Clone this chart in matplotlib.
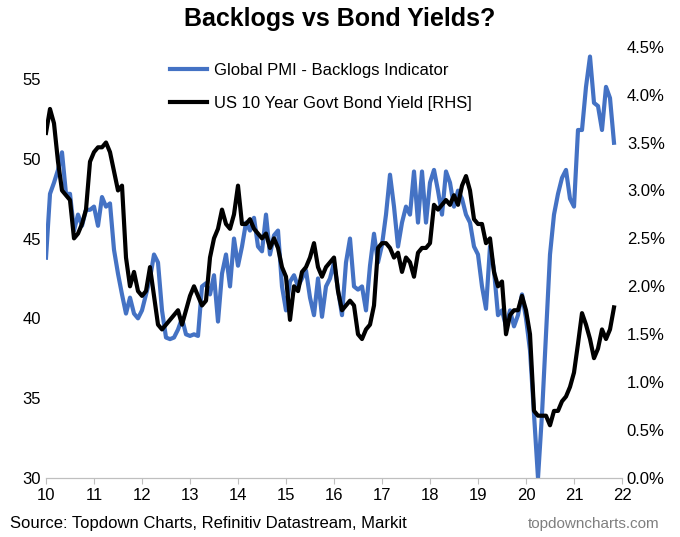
import matplotlib.pyplot as plt
from matplotlib.ticker import PercentFormatter
import numpy as np

plt.rcParams['font.family'] = ['Liberation Sans', 'DejaVu Sans']

pmi = [43.8, 47.8, 48.5, 49.3, 50.4, 47.8, 47.8, 45.5, 46.5, 45.8, 46.8, 46.8,
       47.0, 45.8, 47.6, 47.0, 47.2, 44.3, 42.8, 41.5, 40.3, 41.3, 40.3, 40.0,
       40.5, 41.5, 42.5, 44.0, 43.5, 40.5, 38.8, 38.7, 38.8, 39.3, 40.0, 39.0,
       38.9, 39.0, 38.9, 42.0, 42.2, 41.5, 42.7, 39.8, 42.8, 44.0, 42.0, 45.0,
       43.3, 44.5, 46.0, 45.5, 46.3, 44.5, 44.2, 46.5, 44.0, 45.2, 45.5, 42.0,
       40.5, 42.3, 42.7, 42.0, 42.5, 43.0, 41.3, 40.2, 42.5, 40.1, 42.0, 42.5,
       43.5, 41.8, 40.2, 43.5, 45.0, 42.0, 41.8, 42.0, 40.5, 43.3, 45.3, 43.5,
       44.6, 46.5, 49.0, 47.0, 44.5, 46.0, 47.0, 46.5, 49.2, 46.0, 49.2, 46.0,
       48.5, 49.3, 48.0, 46.5, 49.2, 48.5, 47.0, 48.0, 47.5, 46.5, 46.0, 44.5,
       44.0, 42.0, 40.6, 44.5, 43.0, 40.2, 40.5, 39.5, 40.5, 39.5, 40.2, 41.5,
       40.0, 38.0, 34.0, 30.0, 34.0, 39.0, 44.0, 46.5, 47.8, 48.8, 49.3, 47.5,
       47.0, 51.8, 51.8, 54.5, 56.4, 53.5, 53.3, 51.8, 54.5, 53.8, 51.0]

yld = [3.6, 3.85, 3.7, 3.3, 3.0, 2.95, 2.9, 2.5, 2.55, 2.65, 2.8, 3.3,
       3.4, 3.45, 3.45, 3.5, 3.4, 3.2, 3.0, 3.05, 2.3, 2.0, 2.15, 1.95,
       1.9, 1.95, 2.2, 1.9, 1.6, 1.55, 1.6, 1.65, 1.7, 1.75, 1.6, 1.75,
       1.9, 2.0, 1.9, 1.8, 1.85, 2.3, 2.5, 2.6, 2.8, 2.65, 2.6, 2.75,
       3.05, 2.65, 2.65, 2.7, 2.6, 2.55, 2.5, 2.55, 2.4, 2.5, 2.4, 2.2,
       2.1, 1.65, 2.0, 1.95, 2.15, 2.2, 2.3, 2.45, 2.2, 2.1, 2.2, 2.25,
       2.3, 1.95, 1.75, 1.8, 1.85, 1.8, 1.5, 1.45, 1.55, 1.6, 1.8, 2.4,
       2.45, 2.45, 2.4, 2.3, 2.35, 2.15, 2.3, 2.25, 2.1, 2.35, 2.4, 2.4,
       2.45, 2.85, 2.8, 2.85, 2.9, 2.85, 2.95, 2.85, 3.05, 3.15, 3.0, 2.7,
       2.65, 2.65, 2.45, 2.5, 2.15, 2.0, 2.05, 1.5, 1.7, 1.75, 1.75, 1.9,
       1.75, 1.5, 0.7, 0.65, 0.65, 0.65, 0.55, 0.7, 0.7, 0.8, 0.85, 0.95,
       1.1, 1.4, 1.72, 1.6, 1.45, 1.25, 1.35, 1.55, 1.45, 1.55, 1.78]

x = 10 + np.arange(len(pmi)) / 12

fig = plt.figure(figsize=(6.8, 5.37), dpi=100)
ax = fig.add_axes([46/680, 59/537, 576/680, 439/537])
ax2 = ax.twinx()

l1, = ax.plot(x, pmi, color='#4472C4', lw=3, label='Global PMI - Backlogs Indicator')
l2, = ax2.plot(x, yld, color='black', lw=3, label='US 10 Year Govt Bond Yield [RHS]')

ax.set_xlim(10, 22)
ax.set_ylim(30, 57.5)
ax2.set_ylim(0, 4.58)
ax.set_xticks(range(10, 23))
ax.set_yticks(range(30, 56, 5))
ax2.set_yticks(np.arange(0, 4.51, 0.5))
ax2.yaxis.set_major_formatter(PercentFormatter(decimals=1))
for a in (ax, ax2):
    for s in ('top', 'left', 'right'):
        a.spines[s].set_visible(False)
    a.spines['bottom'].set_color('#bfbfbf')
    a.tick_params(labelsize=12)
ax.tick_params(axis='y', length=0)
ax2.tick_params(axis='y', length=0)
ax.tick_params(axis='x', color='#bfbfbf', length=4)

ax.legend(handles=[l1, l2], loc='upper left', bbox_to_anchor=(0.19, 0.98),
          frameon=False, fontsize=12, handlelength=2.2, labelspacing=1.1,
          handletextpad=0.4)

fig.text(0.5, 0.965, 'Backlogs vs Bond Yields?', ha='center', va='center',
         fontsize=18, fontweight='bold')
fig.text(0.015, 0.025, 'Source: Topdown Charts, Refinitiv Datastream, Markit',
         fontsize=12, va='center')
fig.text(0.97, 0.025, 'topdowncharts.com', fontsize=11, color='#7f7f7f',
         ha='right', va='center')

fig.savefig('out.png', dpi=100)
